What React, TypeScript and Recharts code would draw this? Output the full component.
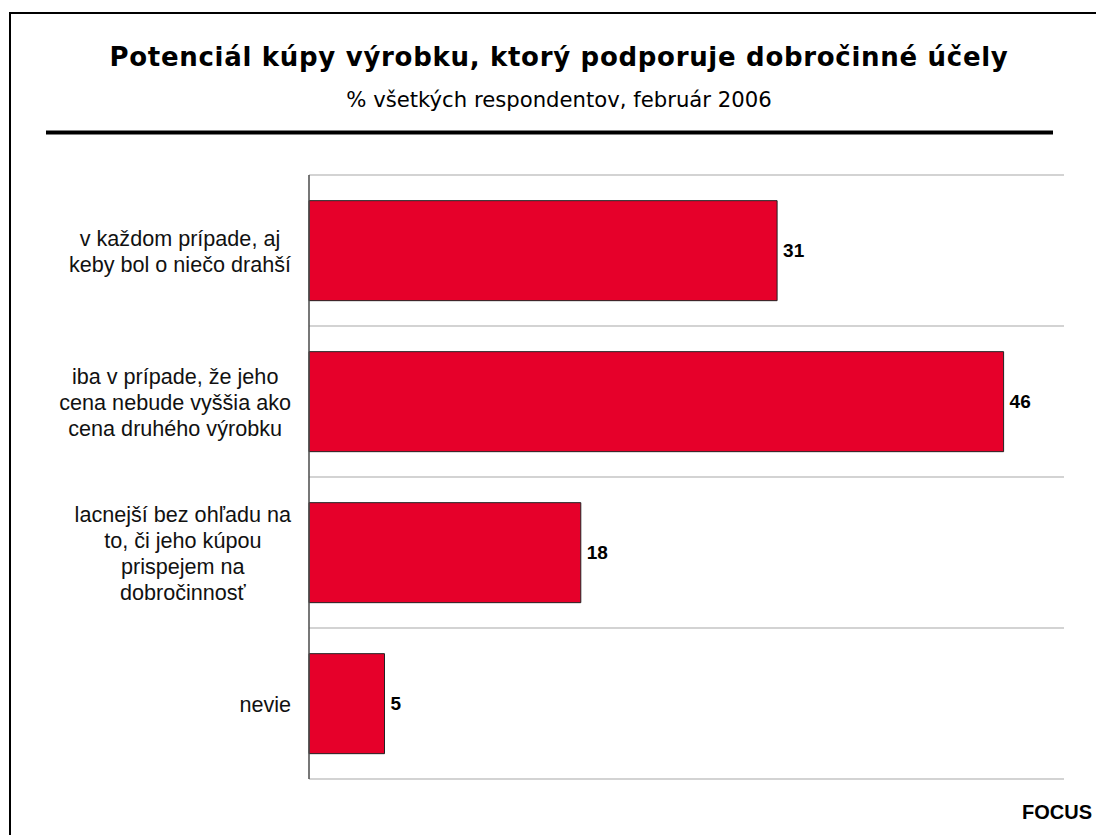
import React from "react";
import { BarChart, Bar, XAxis, YAxis, CartesianGrid, LabelList } from "recharts";

const categories = [
  "v každom prípade, aj\nkeby bol o niečo drahší",
  "iba v prípade, že jeho\ncena nebude vyššia ako\ncena druhého výrobku",
  "lacnejší bez ohľadu na\nto, či jeho kúpou\nprispejem na\ndobročinnosť",
  "nevie",
];
const values = [31, 46, 18, 5];
const xDomain = [0, 50];

const titleText = "Potenciál kúpy výrobku, ktorý podporuje dobročinné účely";
const subtitleText = "% všetkých respondentov, február 2006";
const sourceText = "FOCUS";

const data = categories.map((name, i) => ({ name, value: values[i] }));

const LABEL_FONT = "Liberation Sans, Arial, sans-serif";
const LABEL_SIZE = 21.6;
const LINE_H = 26;

let ctx: CanvasRenderingContext2D | null = null;
function measure(text: string, font: string) {
  if (!ctx) ctx = document.createElement("canvas").getContext("2d");
  if (!ctx) return text.length * 10;
  ctx.font = font;
  return ctx.measureText(text).width;
}

const CategoryTick = (props: any) => {
  const { x, y, payload } = props;
  const lines = String(payload.value).split("\n");
  const font = `${LABEL_SIZE}px "Liberation Sans"`;
  const w = Math.max(...lines.map((l) => measure(l, font)));
  const cx = x - w / 2;
  return (
    <g>
      {lines.map((l, i) => (
        <text
          key={i}
          x={cx}
          y={y + 8 + (i - (lines.length - 1) / 2) * LINE_H}
          textAnchor="middle"
          fontFamily={LABEL_FONT}
          fontSize={LABEL_SIZE}
          fill="#111"
        >
          {l}
        </text>
      ))}
    </g>
  );
};

// horizontal gridlines at category boundaries, derived from the plot offset
const bandBoundaries = ({ offset }: any) => {
  const n = categories.length;
  const out: number[] = [];
  for (let i = 0; i <= n; i++) out.push(offset.top + (i * offset.height) / n);
  return out;
};

export default function App() {
  return (
    <div
      style={{
        position: "fixed",
        left: 0,
        top: 0,
        width: 1096,
        height: 835,
        overflow: "hidden",
        background: "#fff",
      }}
    >
      <div style={{ position: "absolute", left: 0, top: 0 }}>
        <BarChart
          width={1096}
          height={835}
          data={data}
          layout="vertical"
          margin={{ top: 175, right: 32, bottom: 56, left: 0 }}
          barCategoryGap="17%"
        >
          <CartesianGrid
            vertical={false}
            horizontalCoordinatesGenerator={bandBoundaries}
            stroke="#c4c4c4"
            strokeWidth={1.5}
          />
          <XAxis type="number" domain={xDomain} hide />
          <YAxis
            type="category"
            dataKey="name"
            width={309}
            axisLine={{ stroke: "#4a4a4a", strokeWidth: 1.5 }}
            tickLine={false}
            tickSize={0}
            tickMargin={18}
            tick={<CategoryTick />}
            interval={0}
          />
          <Bar dataKey="value" fill="#E6002A" stroke="#222" strokeWidth={1} isAnimationActive={false}>
            <LabelList
              dataKey="value"
              position="right"
              offset={6}
              fill="#000"
              fontFamily={LABEL_FONT}
              fontSize={19}
              fontWeight="bold"
            />
          </Bar>
        </BarChart>
      </div>
      <svg
        width={1096}
        height={835}
        style={{ position: "absolute", left: 0, top: 0, pointerEvents: "none" }}
      >
        <path d="M10,900 V13 H1200" fill="none" stroke="#000" strokeWidth={2} />
        <text
          x={559}
          y={66}
          textAnchor="middle"
          fontFamily="DejaVu Sans, Verdana, sans-serif"
          fontWeight="bold"
          fontSize={26}
          letterSpacing={0.7}
          fill="#000"
        >
          {titleText}
        </text>
        <text
          x={559}
          y={107}
          textAnchor="middle"
          fontFamily="DejaVu Sans, Verdana, sans-serif"
          fontSize={21.2}
          fill="#000"
        >
          {subtitleText}
        </text>
        <line x1={46} x2={1053} y1={132.5} y2={132.5} stroke="#000" strokeWidth={4} />
        <text
          x={1092}
          y={819}
          textAnchor="end"
          fontFamily={LABEL_FONT}
          fontWeight="bold"
          fontSize={20}
          fill="#000"
        >
          {sourceText}
        </text>
      </svg>
    </div>
  );
}
